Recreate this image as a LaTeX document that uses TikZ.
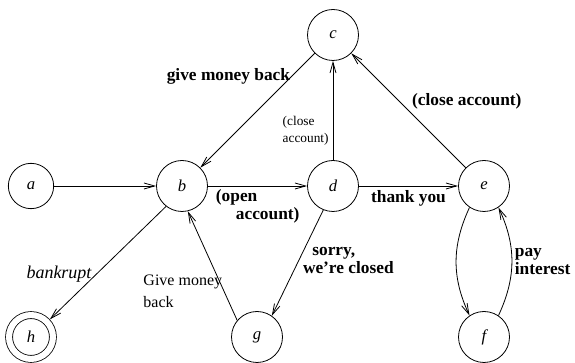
\documentclass[tikz,border=0pt]{standalone}
\usepackage{fontspec}
\setmainfont{Liberation Serif}
\usepackage{tikz}
\usetikzlibrary{arrows.meta,positioning}

\begin{document}
\begin{tikzpicture}[node distance=113.25pt,on grid,line width=0.6pt]
      \tikzstyle{n}=[circle,draw,minimum size=38.25pt,inner sep=0pt,font=\fontsize{12.5}{14}\selectfont\itshape]
      \tikzstyle{fin}=[n,minimum size=32.9pt,double,double distance=4.6pt,outer sep=2.9pt]
      \tikzstyle{tr}=[-{Straight Barb[length=8pt,width=4.5pt]}]
      \tikzstyle{boldlab}=[font=\fontsize{13}{13.5}\selectfont\bfseries,align=left]
      \tikzstyle{thinlab}=[font=\fontsize{12}{16.5}\selectfont,align=left]
      \tikzstyle{smalllab}=[font=\fontsize{10}{12.75}\selectfont,align=left]
      \useasboundingbox (-23.25pt,139.5pt) rectangle (408pt,-132.75pt);
      \node[n,minimum size=34pt] (a) {a};
      \node[n,right=of a] (b) {b};
      \node[n,right=of b] (d) {d};
      \node[n,right=of d] (e) {e};
      \node[n,above=of d] (c) {c};
      \node[n,below=of e] (f) {f};
      \node[fin,below=of a] (h) {h};
      \node[n,below right=113.25pt and 56.25pt of b] (g) {g};
      \draw[tr] (a) -- (b);
      \draw[tr] (b) -- node[boldlab,pos=.05,anchor=north west,inner sep=2pt] (lopen) {(open\\\hspace*{15pt}account)} (d);
      \draw[tr] (d) -- node[boldlab,below,inner sep=3pt] (lthank) {thank you} (e);
      \draw[tr] (c) -- node[boldlab,pos=.2,left,inner sep=1pt] (lgive) {give money back} (b);
      \draw[tr] (d) -- node[smalllab,pos=.3,left,inner sep=3pt] (lclosed) {(close\\account)} (c);
      \draw[tr] (e) -- node[boldlab,pos=.58,right=6pt] (lclosee) {(close account)} (c);
      \draw[tr] (b.-128) -- node[pos=.6,left,font=\fontsize{13.5}{15}\selectfont\itshape] (lbank) {bankrupt} (h.43);
      \draw[tr] (g.140) -- node[thinlab,pos=.27,left,inner sep=1pt] (lgiveg) {Give money\\back} (b.-77);
      \draw[tr] (d.-112) -- node[boldlab,pos=.48,right,inner sep=3pt] (lsorry) {\hspace*{7pt}sorry,\\we're closed} (g.55);
      \draw[tr] (e.-124) to[bend right=25] (f.124);
      \draw[tr] (f.56) to[bend right=25] node[boldlab,right,inner sep=2pt] (lpay) {pay\\interest} (e.-56);
    \end{tikzpicture}
\end{document}
